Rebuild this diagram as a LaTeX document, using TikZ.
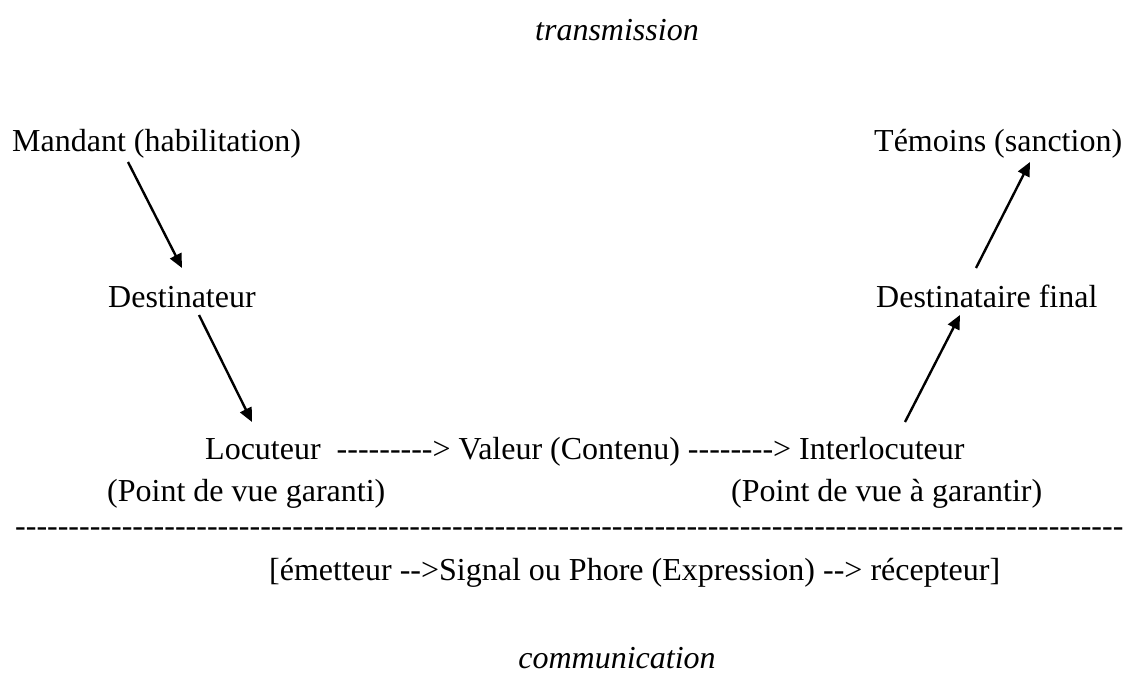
\documentclass[tikz,border=0pt]{standalone}
\usepackage{fontspec}
\setmainfont{Liberation Serif}[Ligatures=TeXOff]
\usetikzlibrary{arrows.meta}
\begin{document}
\begin{tikzpicture}[x=1pt,y=-1pt,
  lbl/.style={inner sep=0pt, anchor=base west, font=\fontsize{32}{38}\selectfont},
  ttl/.style={inner sep=0pt, anchor=base, font=\fontsize{32}{38}\selectfont\itshape},
  arr/.style={line width=2.4pt, -{Triangle[length=14pt,width=12.5pt]}}]
\useasboundingbox (0,0) rectangle (1128,690);
\node[ttl] (trans) at (617,41) {transmission};
\node[lbl] (mandant) at (12,152) {Mandant (habilitation)};
\node[lbl] (temoins) at (874,152) {Témoins (sanction)};
\node[lbl] (destinateur) at (108,307) {Destinateur};
\node[lbl] (destfinal) at (876,307) {Destinataire final};
\node[lbl] (ligne) at (205,459) {Locuteur\ \ ---------> Valeur (Contenu) --------> Interlocuteur};
\node[lbl] (garanti) at (107,501) {(Point de vue garanti)};
\node[lbl] (agarantir) at (731,501) {(Point de vue à garantir)};
\node[lbl] (sep) at (15,536) {--------------------------------------------------------------------------------------------------------};
\node[lbl] (emetteur) at (269,580) {[émetteur -->Signal ou Phore (Expression) --> récepteur]};
\node[ttl] (comm) at (617,668) {communication};
\draw[arr] ([shift={(116,10)}]mandant.base west) -- ([shift={(74,-39)}]destinateur.base west);
\draw[arr] ([shift={(91,8)}]destinateur.base west) -- ([shift={(47,-37)}]ligne.base west);
\draw[arr] ([shift={(700,-37)}]ligne.base west) -- ([shift={(84,8)}]destfinal.base west);
\draw[arr] ([shift={(100,-39)}]destfinal.base west) -- ([shift={(156,10)}]temoins.base west);
\end{tikzpicture}
\end{document}
